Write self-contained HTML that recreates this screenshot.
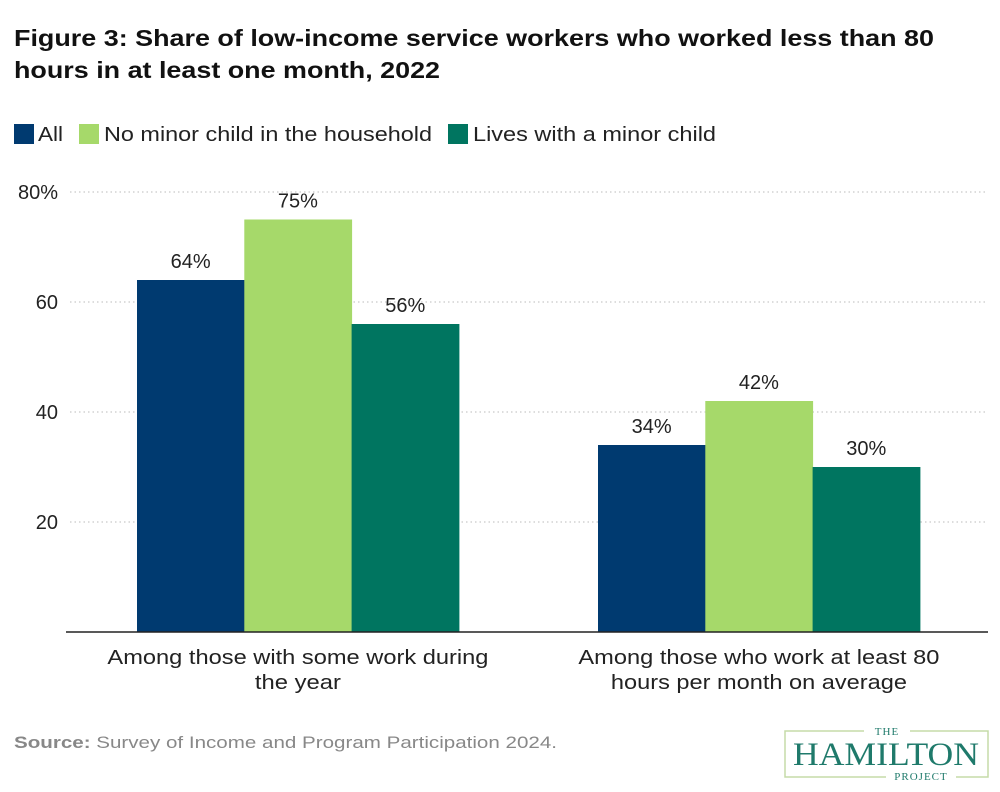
<!DOCTYPE html>
<html><head><meta charset="utf-8"><style>
body{margin:0;background:#fff;width:1000px;height:787px;overflow:hidden;font-family:"Liberation Sans",sans-serif;}
</style></head><body>
<svg width="1000" height="787">
<text x="14" y="46" font-size="23" font-weight="bold" fill="#111" textLength="920" lengthAdjust="spacingAndGlyphs">Figure 3: Share of low-income service workers who worked less than 80</text>
<text x="14" y="78" font-size="23" font-weight="bold" fill="#111" textLength="426" lengthAdjust="spacingAndGlyphs">hours in at least one month, 2022</text>
<g>
<rect x="14" y="124" width="20" height="20" fill="#003a70"/>
<text x="38" y="141" font-size="20" fill="#222" textLength="25" lengthAdjust="spacingAndGlyphs">All</text>
<rect x="79" y="124" width="20" height="20" fill="#a6d96a"/>
<text x="104" y="141" font-size="20" fill="#222" textLength="328" lengthAdjust="spacingAndGlyphs">No minor child in the household</text>
<rect x="448" y="124" width="20" height="20" fill="#007560"/>
<text x="473" y="141" font-size="20" fill="#222" textLength="243" lengthAdjust="spacingAndGlyphs">Lives with a minor child</text>
</g>
<g id="plot"></g>
<text x="14" y="748" font-size="17" fill="#888" textLength="543" lengthAdjust="spacingAndGlyphs"><tspan font-weight="bold">Source:</tspan> Survey of Income and Program Participation 2024.</text>
<g>
<rect x="785" y="731" width="203" height="46" fill="none" stroke="#c5dba8" stroke-width="1.5"/>
<rect x="864" y="725" width="46" height="12" fill="#fff"/>
<text x="887" y="735" font-size="11" fill="#1f7a6b" text-anchor="middle" font-family="Liberation Serif,serif" letter-spacing="1">THE</text>
<text x="886" y="765" font-size="33" fill="#1f7a6b" text-anchor="middle" font-family="Liberation Serif,serif" textLength="186" lengthAdjust="spacingAndGlyphs">HAMILTON</text>
<rect x="886" y="771" width="70" height="12" fill="#fff"/>
<text x="921" y="780" font-size="11" fill="#1f7a6b" text-anchor="middle" font-family="Liberation Serif,serif" letter-spacing="1">PROJECT</text>
</g>
</svg>
<script>
const categories=[["Among those with some work during","the year"],["Among those who work at least 80","hours per month on average"]];
const seriesNames=["All","No minor child in the household","Lives with a minor child"];
const allVals=[64,34];
const noChildVals=[75,42];
const childVals=[56,30];
const ticks=[20,40,60,80];
const colors=["#003a70","#a6d96a","#007560"];
const labelLens=[[381,86],[361,296]];
const NS="http://www.w3.org/2000/svg";
const g=document.getElementById('plot');
const y=v=>632-v*5.5;
const groupStart=[137,598],bw=107.3;
function mk(t,a,txt){const e=document.createElementNS(NS,t);for(const k in a)e.setAttribute(k,a[k]);if(txt!==undefined)e.textContent=txt;g.appendChild(e);return e;}
ticks.forEach(t=>{
 const l=mk('line',{x1:70,x2:988,y1:y(t),y2:y(t),stroke:'#bbb','stroke-dasharray':'1.5,3'});
 
 
 const tx=mk('text',{x:58,y:y(t)+7,'font-size':20,fill:'#222','text-anchor':'end'},t===80?'80%':String(t));
 
 
});
[allVals,noChildVals,childVals].forEach((vals,s)=>{
 vals.forEach((v,i)=>{
  const x=groupStart[i]+s*bw;
  const r=mk('rect',{x:x,y:y(v),width:bw+0.5,height:y(0)-y(v),fill:colors[s]});
  
  
  const lb=mk('text',{x:x+bw/2,y:y(v)-12,'font-size':20,fill:'#222','text-anchor':'middle'},v+'%');
  
  
 });
});
const ax=mk('line',{x1:66,x2:988,y1:632,y2:632,stroke:'#222','stroke-width':1.5});


categories.forEach((c,i)=>{
 const cx=groupStart[i]+bw*1.5;
 c.forEach((line,j)=>{
  const t=mk('text',{x:cx,y:664+j*25,'font-size':20,fill:'#222','text-anchor':'middle',textLength:labelLens[i][j],lengthAdjust:'spacingAndGlyphs'},line);
  
  
 });
});
</script>
</body></html>
